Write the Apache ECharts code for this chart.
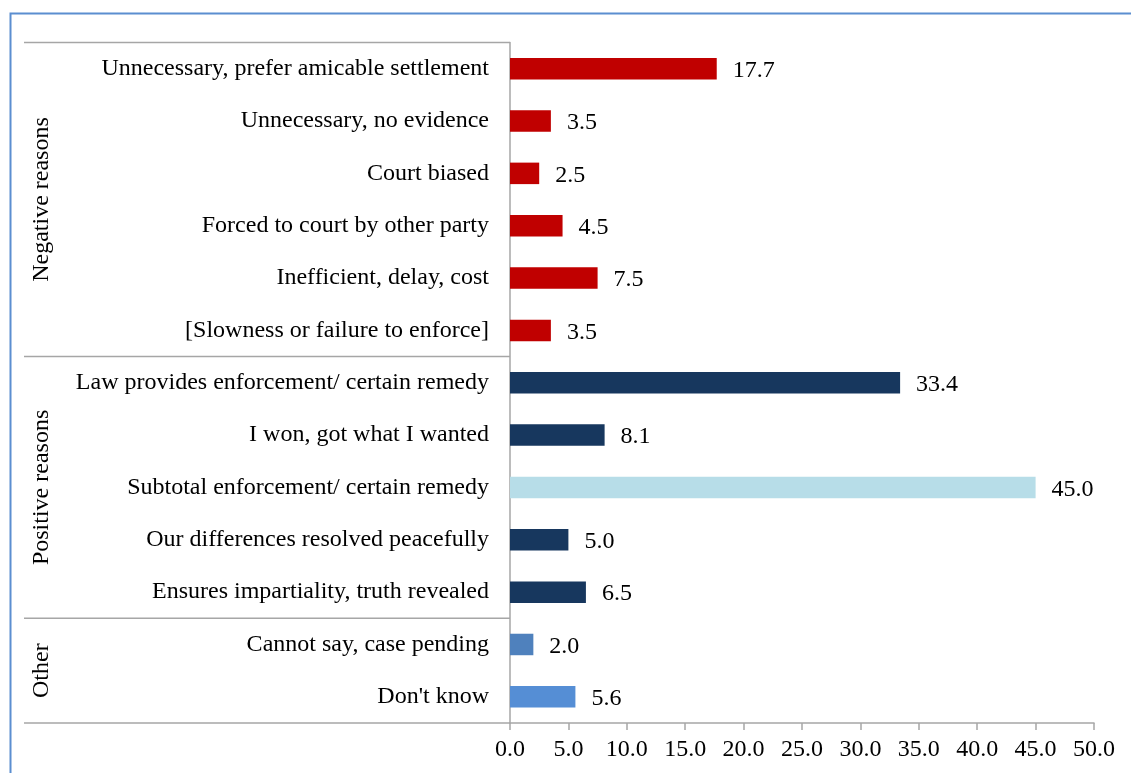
<!DOCTYPE html>
<html>
<head>
<meta charset="utf-8">
<script src="https://cdn.jsdelivr.net/npm/echarts@6/dist/echarts.min.js"></script>
<style>
html,body{margin:0;padding:0;background:#fff;}
#chart{width:1131px;height:773px;}
</style>
</head>
<body>
<div id="chart"></div>
<script>
var categories = [
  'Unnecessary, prefer amicable settlement',
  'Unnecessary, no evidence',
  'Court biased',
  'Forced to court by other party',
  'Inefficient, delay, cost',
  '[Slowness or failure to enforce]',
  'Law provides enforcement/ certain remedy',
  'I won, got what I wanted',
  'Subtotal enforcement/ certain remedy',
  'Our differences resolved peacefully',
  'Ensures impartiality, truth revealed',
  'Cannot say, case pending',
  "Don't know"
];
var values = [17.7, 3.5, 2.5, 4.5, 7.5, 3.5, 33.4, 8.1, 45.0, 5.0, 6.5, 2.0, 5.6];
var kinds = ['neg','neg','neg','neg','neg','neg','pos','pos','sub','pos','pos','other1','other2'];
var groupNames = ['Negative reasons', 'Positive reasons', 'Other'];
var groupStarts = [0, 6, 11];
var groupEnds = [5, 10, 12];
var xTicks = [0, 5, 10, 15, 20, 25, 30, 35, 40, 45, 50];

var kindColors = {neg:'#C00000', pos:'#17375E', sub:'#B7DDE8', other1:'#4F81BD', other2:'#558ED5'};
var FONT = '"Liberation Serif", "Times New Roman", serif';
var FS = 24;

var chart = echarts.init(document.getElementById('chart'), null, {renderer:'canvas'});
var option = {
  animation: false,
  backgroundColor: '#fff',
  grid: {left: 510, right: 37, top: 42.5, bottom: 50, containLabel: false},
  xAxis: {
    type: 'value', min: xTicks[0], max: xTicks[xTicks.length-1], interval: 5,
    splitLine: {show: false},
    axisLine: {show: true, lineStyle: {color: '#A6A6A6', width: 1.5}},
    axisTick: {show: true, length: 7, lineStyle: {color: '#A6A6A6', width: 1.5}},
    axisLabel: {color: '#000', fontFamily: FONT, fontSize: FS, margin: 15,
      formatter: function(v){ return v.toFixed(1); }}
  },
  yAxis: {
    type: 'category', data: categories, inverse: true,
    axisLine: {show: true, lineStyle: {color: '#A6A6A6', width: 1.5}},
    axisTick: {show: false},
    axisLabel: {color: '#000', fontFamily: FONT, fontSize: FS, margin: 21, padding: [4, 0, 0, 0]}
  },
  series: [{
    type: 'bar',
    barWidth: 21.5,
    data: values.map(function(v, i){ return {value: v, itemStyle: {color: kindColors[kinds[i]]}}; }),
    label: {show: true, position: 'right', distance: 16, offset: [0, 2], color: '#000', fontFamily: FONT, fontSize: FS,
      formatter: function(p){ return p.value.toFixed(1); }}
  }]
};
chart.setOption(option);

function buildGraphics(){
  var c0 = chart.convertToPixel({yAxisIndex: 0}, 0);
  var c1 = chart.convertToPixel({yAxisIndex: 0}, 1);
  var band = c1 - c0;
  var axisX = chart.convertToPixel({xAxisIndex: 0}, 0);
  var leftX = 24;
  var els = [];
  els.push({type:'polyline', silent:true, shape:{points:[[10.5, 780],[10.5, 13.5],[1140, 13.5]]},
    style:{stroke:'#5B8ED0', lineWidth:2, fill:null}});
  var boundaries = [];
  for (var g = 0; g < groupStarts.length; g++) {
    var top = chart.convertToPixel({yAxisIndex: 0}, groupStarts[g]) - band/2;
    var bot = chart.convertToPixel({yAxisIndex: 0}, groupEnds[g]) + band/2;
    boundaries.push(top);
    if (g === groupStarts.length - 1) boundaries.push(bot);
    els.push({type:'text', silent:true, x: 42, y: (top+bot)/2, rotation: Math.PI/2,
      style:{text: groupNames[g], font: FS + 'px ' + FONT, fill:'#000', align:'center', verticalAlign:'middle'}});
  }
  boundaries.forEach(function(y){
    els.push({type:'line', silent:true, shape:{x1: leftX, y1: y, x2: axisX, y2: y},
      style:{stroke:'#A6A6A6', lineWidth:1.5}});
  });
  chart.setOption({graphic: {elements: els}});
}
buildGraphics();
</script>
</body>
</html>
